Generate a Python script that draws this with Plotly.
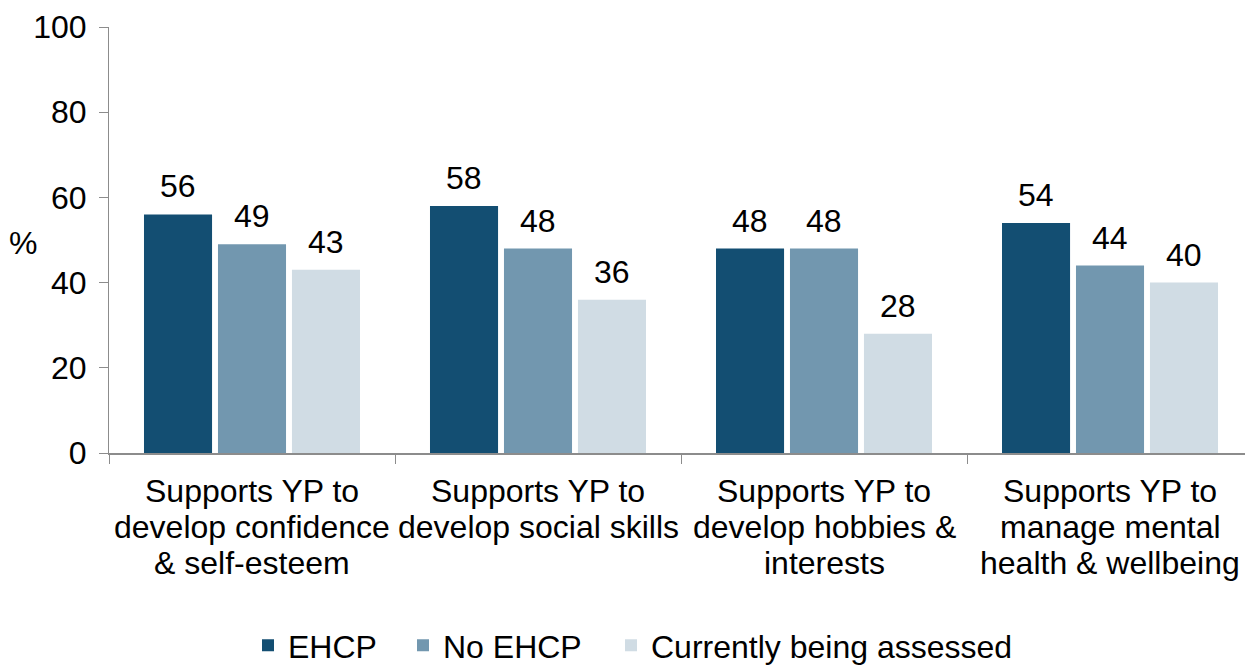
import plotly.graph_objects as go

categories = [
    "Supports YP to<br>develop confidence<br>& self-esteem",
    "Supports YP to<br>develop social skills",
    "Supports YP to<br>develop hobbies &<br>interests",
    "Supports YP to<br>manage mental<br>health & wellbeing",
]
series_names = ["EHCP", "No EHCP", "Currently being assessed"]
ehcp = [56, 58, 48, 54]
no_ehcp = [49, 48, 48, 44]
being_assessed = [43, 36, 28, 40]
y_ticks = [0, 20, 40, 60, 80, 100]

colors = ["#134E72", "#7297AF", "#D0DCE4"]
FONT = "Liberation Sans, Arial, sans-serif"
FS = 32
BARGAP = 0.224
BARGROUPGAP = 0.08
LINE_STEP = 36  # px between category label lines
W, H = 1245, 666
legend_left_px = [248, 403, 611]  # left edge of each legend entry

fig = go.Figure()
legend_ids = ["legend", "legend2", "legend3"]
for name, vals, col, lid in zip(series_names, [ehcp, no_ehcp, being_assessed], colors, legend_ids):
    fig.add_trace(go.Bar(
        name=name, x=categories, y=vals, marker_color=col,
        marker_line_width=0, legend=lid,
    ))

annotations = []

# value labels above each bar, placed at the grouped-bar centres
slot = (1 - BARGAP) / len(series_names)
for j, vals in enumerate([ehcp, no_ehcp, being_assessed]):
    for i, v in enumerate(vals):
        annotations.append(dict(
            x=i + (j - 1) * slot, y=v, xref="x", yref="y",
            text=str(v), showarrow=False, yanchor="bottom", yshift=8,
            font=dict(size=FS, color="#000000", family=FONT),
        ))

# category labels, one annotation per line for tighter line spacing
for i, cat in enumerate(categories):
    for k, line in enumerate(cat.split("<br>")):
        annotations.append(dict(
            x=i, y=0, xref="x", yref="paper", text=line, showarrow=False,
            xanchor="center", yanchor="middle", yshift=-38 - k * LINE_STEP,
            font=dict(size=FS, color="#000000", family=FONT),
        ))

# y axis title
annotations.append(dict(
    x=-0.0757, y=0.493, xref="paper", yref="paper", text="%", showarrow=False,
    xanchor="center", yanchor="middle",
    font=dict(size=FS, color="#000000", family=FONT),
))

legend_style = dict(
    orientation="h", xref="container", yref="container",
    xanchor="left", y=0.031, yanchor="middle",
    font=dict(size=FS, color="#000000", family=FONT),
    itemclick=False, bgcolor="rgba(0,0,0,0)",
)
legends = {
    lid: dict(legend_style, x=px / W) for lid, px in zip(legend_ids, legend_left_px)
}

fig.update_layout(
    width=W, height=H,
    margin=dict(l=109, r=0, t=27, b=213),
    paper_bgcolor="white", plot_bgcolor="white",
    barmode="group", bargap=BARGAP, bargroupgap=BARGROUPGAP,
    font=dict(family=FONT, size=FS, color="#000000"),
    showlegend=True,
    annotations=annotations,
    **legends,
)
fig.update_xaxes(
    type="category", range=[-0.5, 3.472],
    showline=True, linecolor="#8C8C8C", linewidth=2,
    ticks="outside", tickson="boundaries", ticklen=9, tickcolor="#8C8C8C", tickwidth=1,
    showticklabels=False,
    showgrid=False, zeroline=False,
)
fig.update_yaxes(
    range=[0, 100], tickvals=y_ticks,
    showline=True, linecolor="#8C8C8C", linewidth=1,
    ticks="outside", ticklen=9, tickcolor="#8C8C8C", tickwidth=1,
    tickfont=dict(size=FS, color="#000000", family=FONT),
    ticklabelstandoff=6,
    showgrid=False, zeroline=False,
)

fig.write_html("out.html")
